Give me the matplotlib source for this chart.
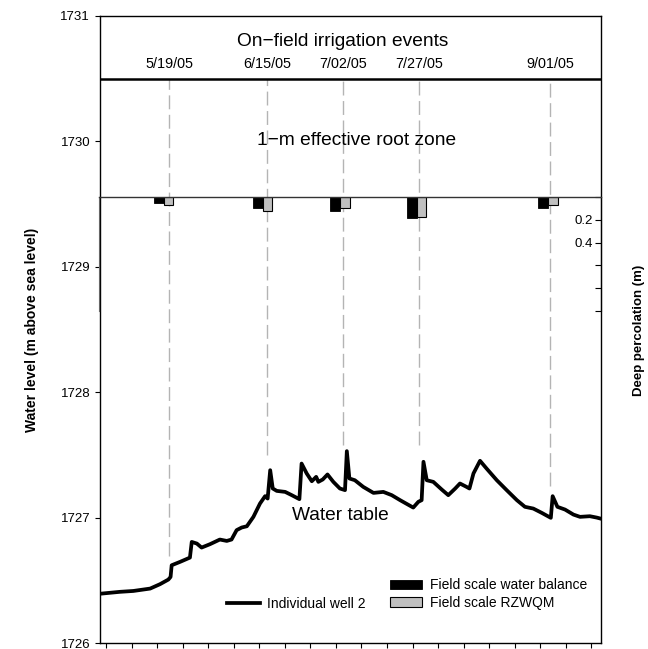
import matplotlib
matplotlib.use("Agg")
import matplotlib.pyplot as plt

plt.rcParams["font.family"] = ["Liberation Sans", "DejaVu Sans"]

# x axis = days since 1 May 2005
well_days = [-0.2, 4.8, 8.5, 13.1, 15.8, 18.1, 18.7, 19.0, 21.3, 24.0, 24.5, 25.9, 27.2, 29.5,
             32.2, 34.1, 35.4, 36.8, 38.2, 39.6, 41.4, 43.2, 44.6, 45.3, 46.0, 46.7, 47.8, 50.1,
             51.9, 54.0, 54.6, 56.0, 57.4, 58.6, 59.2, 60.4, 61.7, 63.3, 65.1, 66.5, 67.0, 67.7,
             69.2, 71.5, 74.3, 77.0, 79.3, 81.6, 85.2, 86.6, 87.5, 88.0, 88.9, 90.7, 93.0, 94.8,
             96.7, 98.0, 99.8, 100.6, 101.7, 103.5, 105.3, 108.1, 110.8, 113.6, 115.8, 118.1,
             120.4, 122.9, 123.4, 124.7, 126.8, 129.1, 130.9, 133.6, 135.5, 136.8]
well_level = [1726.394, 1726.408, 1726.415, 1726.434, 1726.469, 1726.506, 1726.527, 1726.620,
              1726.647, 1726.681, 1726.806, 1726.793, 1726.761, 1726.788, 1726.825, 1726.814,
              1726.825, 1726.900, 1726.921, 1726.931, 1727.006, 1727.112, 1727.171, 1727.152,
              1727.378, 1727.232, 1727.213, 1727.205, 1727.179, 1727.147, 1727.431, 1727.352,
              1727.290, 1727.325, 1727.285, 1727.304, 1727.344, 1727.285, 1727.232, 1727.219,
              1727.530, 1727.312, 1727.298, 1727.245, 1727.197, 1727.205, 1727.179, 1727.139,
              1727.080, 1727.126, 1727.139, 1727.445, 1727.298, 1727.285, 1727.224, 1727.179,
              1727.232, 1727.272, 1727.245, 1727.232, 1727.352, 1727.453, 1727.391, 1727.298,
              1727.219, 1727.139, 1727.086, 1727.072, 1727.038, 1726.998, 1727.171, 1727.086,
              1727.064, 1727.024, 1727.006, 1727.011, 1727.000, 1726.990]

event_labels = ["5/19/05", "6/15/05", "7/02/05", "7/27/05", "9/01/05"]
event_days = [18.3, 45.1, 66.0, 86.8, 122.8]
event_line_ends = [1726.69, 1727.50, 1727.58, 1727.58, 1727.25]

perc_days = [17.0, 44.1, 65.2, 86.2, 122.2]
perc_water_balance = [0.050, 0.100, 0.125, 0.184, 0.100]
perc_rzwqm = [0.068, 0.120, 0.096, 0.175, 0.073]
perc_ticks = [0, 0.2, 0.4, 0.6, 0.8, 1.0]
perc_ticklabels = ["", "0.2", "0.4", "", "", ""]

fig = plt.figure(figsize=(6.48, 6.49), dpi=100)
ax = fig.add_axes([100 / 648, 1 - 643 / 649, 501 / 648, 627 / 649])

ax.plot(well_days, well_level, color="black", lw=2.7, solid_joinstyle="round",
        label="Individual well 2")
ax.vlines(event_days, event_line_ends, 1730.5, colors="#b4b4b4", lw=1,
          linestyles=[(0, (10, 4))])
ax.axhline(1730.5, color="black", lw=1.8)

for d, lab in zip(event_days, event_labels):
    ax.text(d, 1730.62, lab, ha="center", va="center", fontsize=10.4)
ax.text(65.9, 1730.8, "On\u2212field irrigation events", ha="center", va="center", fontsize=13.8)
ax.text(69.7, 1730.01, "1\u2212m effective root zone", ha="center", va="center", fontsize=13.8)
ax.text(65.1, 1727.02, "Water table", ha="center", va="center", fontsize=13.8)

ax.set_xlim(-0.64, 136.65)
ax.set_ylim(1726, 1731)
ax.set_yticks([1726, 1727, 1728, 1729, 1730, 1731])
ax.set_xticks(range(1, 135, 7))
ax.set_xticklabels([])
ax.tick_params(axis="both", direction="out", length=3.6, width=0.8, labelsize=9.5)
for s in ax.spines.values():
    s.set_linewidth(1.0)

# inset axes for deep percolation bars
ins = fig.add_axes([99 / 648, 1 - 311 / 649, 502 / 648, 114 / 649], facecolor="none")
b1 = ins.bar(perc_days, perc_water_balance, width=-2.7, align="edge", color="black",
             edgecolor="black", lw=0.6, label="Field scale water balance")
b2 = ins.bar(perc_days, perc_rzwqm, width=2.7, align="edge", color="#c0c0c0",
             edgecolor="black", lw=0.8, label="Field scale RZWQM")
ins.set_xlim(-0.64, 136.65)
ins.set_ylim(1.0, 0)
ins.set_xticks([])
ins.yaxis.tick_right()
ins.set_yticks(perc_ticks)
ins.set_yticklabels(perc_ticklabels)
ins.tick_params(axis="y", direction="in", length=4, width=0.8, pad=-6, labelsize=9.5)
for lbl in ins.get_yticklabels():
    lbl.set_horizontalalignment("right")
ins.spines["bottom"].set_visible(False)
ins.spines["top"].set_color("#333333")
ins.spines["top"].set_linewidth(1.0)
ins.spines["left"].set_color("#666666")
ins.spines["left"].set_linewidth(0.8)

leg1 = ax.legend(loc="center left", bbox_to_anchor=(0.253, 0.062), frameon=False,
                 fontsize=10, borderpad=0, borderaxespad=0, handlelength=2.4,
                 handletextpad=0.5)
ax.add_artist(leg1)
ax.legend(handles=[b1, b2], loc="center left", bbox_to_anchor=(0.579, 0.078),
          frameon=False, fontsize=10, borderpad=0, borderaxespad=0, handlelength=2.3,
          handleheight=0.65, handletextpad=0.6, labelspacing=0.25)

fig.text(32 / 648, 1 - 329.5 / 649, "Water level (m above sea level)", rotation=90,
         ha="center", va="center", fontsize=10, fontweight="bold")
fig.text(639 / 648, 1 - 330 / 649, "Deep percolation (m)", rotation=90,
         ha="center", va="center", fontsize=9.5, fontweight="bold")

fig.savefig("out.png", dpi=100)
